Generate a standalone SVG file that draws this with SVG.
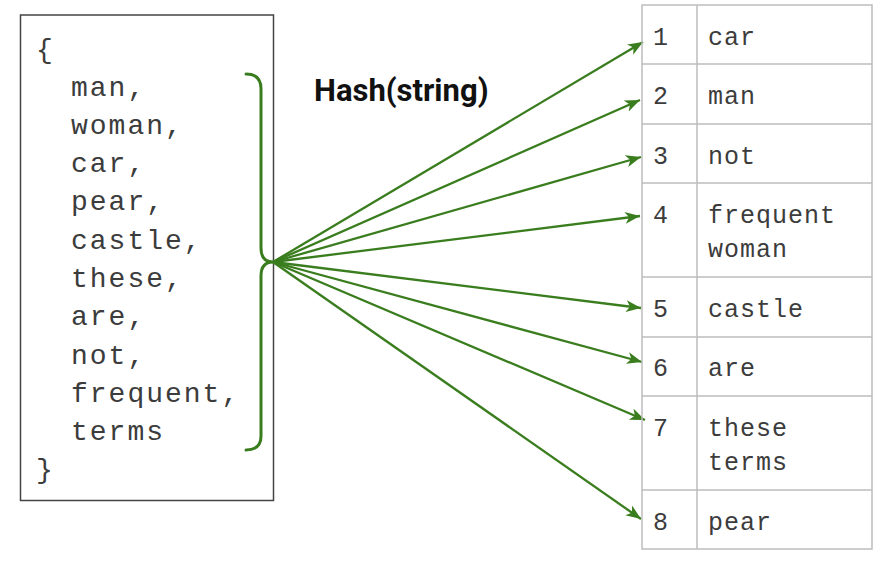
<svg xmlns="http://www.w3.org/2000/svg" width="890" height="572" viewBox="0 0 890 572">
<defs>
<style>
.mono{font-family:"Liberation Mono","DejaVu Sans Mono",monospace;fill:#3c3c3c;}
.left{font-size:28px;letter-spacing:2px;}
.cell{font-size:25px;letter-spacing:1px;}
.grid{stroke:#bdbdbd;stroke-width:1.5;fill:none;}
.arrow{stroke:#3a7d1e;stroke-width:2.3;fill:none;marker-end:url(#ah);}
</style>
<marker id="ah" markerUnits="userSpaceOnUse" markerWidth="18" markerHeight="14" refX="15" refY="6" orient="auto" viewBox="0 0 18 14">
<path d="M0,0 L15,6 L0,12 L4,6 Z" fill="#3a7d1e"/>
</marker>
</defs>
<rect width="890" height="572" fill="#ffffff"/>

<g id="input-set">
<rect x="20.5" y="15" width="253" height="485.5" fill="none" stroke="#444" stroke-width="1.5"/>
<text class="mono left" x="36" y="58">{</text>
<text class="mono left" x="71" y="95.5">man,</text>
<text class="mono left" x="71" y="133.8">woman,</text>
<text class="mono left" x="71" y="172.1">car,</text>
<text class="mono left" x="71" y="210.4">pear,</text>
<text class="mono left" x="71" y="248.7">castle,</text>
<text class="mono left" x="71" y="287">these,</text>
<text class="mono left" x="71" y="325.3">are,</text>
<text class="mono left" x="71" y="363.6">not,</text>
<text class="mono left" x="71" y="401.9">frequent,</text>
<text class="mono left" x="71" y="440.2">terms</text>
<text class="mono left" x="36" y="478">}</text>
</g>

<g id="brace">
<path d="M246,74 Q261,74 261,89 L261,248 Q261,262 273,262 Q261,262 261,276 L261,436 Q261,450 246,450" fill="none" stroke="#3a7d1e" stroke-width="3" stroke-linecap="round"/>
</g>

<g id="hash-label">
<text x="314" y="101" font-family="Roboto,'Liberation Sans',sans-serif" font-weight="bold" font-size="31" fill="#111">Hash(string)</text>
</g>

<g id="connectors">
<line class="arrow" x1="273" y1="262" x2="643" y2="42"/>
<line class="arrow" x1="273" y1="262" x2="640" y2="100"/>
<line class="arrow" x1="273" y1="262" x2="641" y2="157"/>
<line class="arrow" x1="273" y1="262" x2="640" y2="216"/>
<line class="arrow" x1="273" y1="262" x2="641" y2="308"/>
<line class="arrow" x1="273" y1="262" x2="642" y2="362"/>
<line class="arrow" x1="273" y1="262" x2="645" y2="420"/>
<line class="arrow" x1="273" y1="262" x2="641" y2="519"/>
</g>

<g id="hash-table">
<rect class="grid" x="642" y="5" width="230" height="544"/>
<line class="grid" x1="697" y1="5" x2="697" y2="549"/>
<line class="grid" x1="642" y1="64" x2="872" y2="64"/>
<line class="grid" x1="642" y1="124" x2="872" y2="124"/>
<line class="grid" x1="642" y1="183" x2="872" y2="183"/>
<line class="grid" x1="642" y1="277" x2="872" y2="277"/>
<line class="grid" x1="642" y1="337" x2="872" y2="337"/>
<line class="grid" x1="642" y1="396" x2="872" y2="396"/>
<line class="grid" x1="642" y1="490" x2="872" y2="490"/>
</g>

<g id="row-1"><text class="mono cell" x="653" y="45">1</text><text class="mono cell" x="708" y="45">car</text></g>
<g id="row-2"><text class="mono cell" x="653" y="104">2</text><text class="mono cell" x="708" y="104">man</text></g>
<g id="row-3"><text class="mono cell" x="653" y="164">3</text><text class="mono cell" x="708" y="164">not</text></g>
<g id="row-4"><text class="mono cell" x="653" y="223">4</text><text class="mono cell" x="708" y="223">frequent</text><text class="mono cell" x="708" y="257">woman</text></g>
<g id="row-5"><text class="mono cell" x="653" y="317">5</text><text class="mono cell" x="708" y="317">castle</text></g>
<g id="row-6"><text class="mono cell" x="653" y="376">6</text><text class="mono cell" x="708" y="376">are</text></g>
<g id="row-7"><text class="mono cell" x="653" y="436">7</text><text class="mono cell" x="708" y="436">these</text><text class="mono cell" x="708" y="470">terms</text></g>
<g id="row-8"><text class="mono cell" x="653" y="530">8</text><text class="mono cell" x="708" y="530">pear</text></g>
</svg>
